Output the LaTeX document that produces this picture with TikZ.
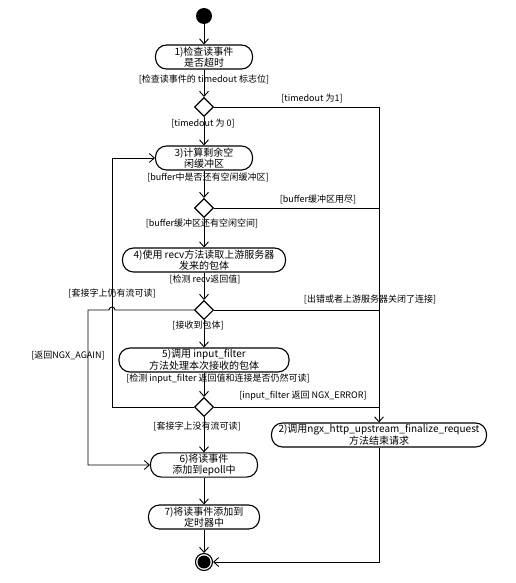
\documentclass[tikz,border=0pt]{standalone}
\usepackage{fontspec}
\usepackage{tikz}
\usetikzlibrary{shapes.geometric, arrows.meta, calc}
\newfontfamily\cjk{Noto Sans CJK SC}

\begin{document}
\begin{tikzpicture}[x=1pt, y=-1pt, line width=0.9pt,
    act/.style={draw, line width=1.1pt, rounded corners=11pt, minimum height=24pt, inner sep=1pt, align=center, font={\cjk\fontsize{10}{11.5}\selectfont}},
    guard/.style={inner sep=0pt, font={\cjk\fontsize{9}{11}\selectfont}},
    choice/.style={draw, line width=1.1pt, diamond, aspect=1, inner sep=0pt, minimum size=19pt},
    flow/.style={-{Straight Barb[length=5pt, width=9pt]}}]
    \useasboundingbox (0,0) rectangle (515,583);

    \node[circle, fill=black, minimum size=16pt, inner sep=0pt] (start) at (204,16) {};
    \node[act, minimum width=97pt] (read) at (204,57) {1)检查读事件\\是否超时};
    \node[choice] (timeout) at (204,107) {};
    \node[act, minimum width=97pt] (buffer) at (204,158) {3)计算剩余空\\闲缓冲区};
    \node[choice] (space) at (204,208) {};
    \node[act, minimum width=163pt] (recv) at (204,260) {4)使用 recv方法读取上游服务器\\发来的包体};
    \node[choice] (recvret) at (204,310) {};
    \node[act, minimum width=170pt] (filter) at (204,360) {5)调用 input\_filter\\方法处理本次接收的包体};
    \node[choice] (filterret) at (204,407) {};
    \node[act, minimum width=215pt] (finalize) at (379,435) {2)调用ngx\_http\_upstream\_finalize\_request\\方法结束请求};
    \node[act, minimum width=107pt] (epoll) at (204,465) {6)将读事件\\添加到epoll中};
    \node[act, minimum width=111pt] (timer) at (204,517) {7)将读事件添加到\\定时器中};
    \node[circle, draw, line width=1.1pt, minimum size=17pt, inner sep=0pt] (stop) at (204,562) {};
    \fill (stop.center) circle (6.5);

    \coordinate (loopA) at (112,407);
    \coordinate (loopB) at (88,310);

    \draw[flow] (start) -- (read);
    \draw[flow] (read) -- (timeout);
    \draw[flow] (timeout) -- (buffer);
    \draw[flow] (buffer) -- (space);
    \draw[flow] (space) -- (recv);
    \draw[flow] (recv) -- (recvret);
    \draw[flow] (recvret) -- (filter);
    \draw[flow] (filter) -- (filterret);
    \draw[flow] (filterret) -- (epoll);
    \draw[flow] (epoll) -- (timer);
    \draw[flow] (timer) -- (stop);

    \draw[flow] (timeout.east) -| (finalize.north);
    \draw (space.east) -- (space.east -| finalize.north);
    \draw (recvret.east) -- (recvret.east -| finalize.north);
    \draw (filterret.east) -- (filterret.east -| finalize.north);
    \draw[flow] (finalize.south) |- (stop.east);

    \draw[flow] (filterret.west) -- (loopA) |- (buffer.west);
    \draw[flow] (recvret.west) -- ($(recvret.west -| loopA)+(3,0)$) arc[start angle=0, end angle=-180, radius=3] -- (loopB) |- (epoll.west);

    \node[guard] (g1) at (204,79) {[检查读事件的 timedout 标志位]};
    \node[guard] (g2) at (312,98) {[timedout 为1]};
    \node[guard] (g3) at (203,123) {[timedout 为 0]};
    \node[guard] (g4) at (208,177) {[buffer中是否还有空闲缓冲区]};
    \node[guard] (g5) at (318,199) {[buffer缓冲区用尽]};
    \node[guard] (g6) at (202,223) {[buffer缓冲区还有空闲空间]};
    \node[guard] (g7) at (205,279) {[检测 recv返回值]};
    \node[guard] (g8) at (112,293) {[套接字上仍有流可读]};
    \node[guard] (g9) at (370,299) {[出错或者上游服务器关闭了连接]};
    \node[guard] (g10) at (198,325) {[接收到包体]};
    \node[guard] (g11) at (68,356) {[返回NGX\_AGAIN]};
    \node[guard] (g12) at (218,379) {[检测 input\_filter 返回值和连接是否仍然可读]};
    \node[guard] (g13) at (303,396) {[input\_filter 返回 NGX\_ERROR]};
    \node[guard] (g14) at (197,426) {[套接字上没有流可读]};
\end{tikzpicture}
\end{document}
